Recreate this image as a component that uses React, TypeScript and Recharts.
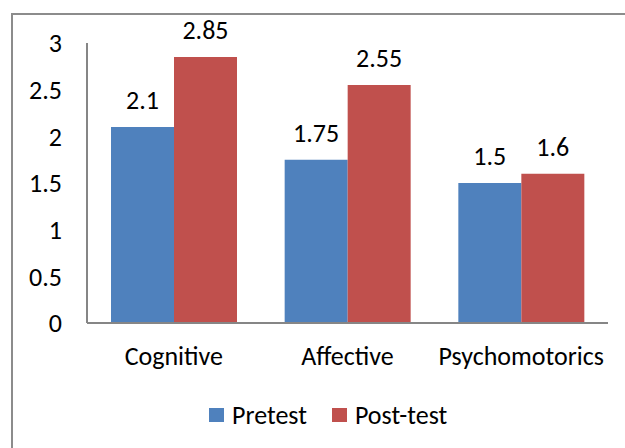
import { BarChart, Bar, XAxis, YAxis, Legend, LabelList } from "recharts";

const categories = ["Cognitive", "Affective", "Psychomotorics"];
const pretest = [2.1, 1.75, 1.5];
const posttest = [2.85, 2.55, 1.6];
const yTicks = [0, 0.5, 1, 1.5, 2, 2.5, 3];
const seriesNames = ["Pretest", "Post-test"];
const seriesColors = ["#4F81BD", "#C0504D"];

const data = categories.map((name, i) => ({
  name,
  Pretest: pretest[i],
  "Post-test": posttest[i],
}));

const font = "Carlito, Lato, sans-serif";

const LegendBox = () => (
  <div style={{ display: "flex", alignItems: "center", height: 30, paddingLeft: 209, fontSize: 26, fontFamily: font, color: "#000" }}>
    {seriesNames.map((n, i) => (
      <div key={n} style={{ display: "flex", alignItems: "center", marginRight: 25 }}>
        <span style={{ display: "inline-block", width: 15, height: 14, background: seriesColors[i], marginRight: 8 }} />
        <span>{n}</span>
      </div>
    ))}
  </div>
);

export default function App() {
  return (
    <div style={{ position: "absolute", left: 0, top: 0, width: 625, height: 448, overflow: "hidden", background: "#fff", fontFamily: font }}>
      <div style={{ position: "absolute", left: 11, top: 13, width: 640, height: 460, border: "2px solid #8c8c8c", boxSizing: "border-box" }} />
      <BarChart
        width={625}
        height={448}
        data={data}
        margin={{ top: 43, right: 17, bottom: 35, left: 0 }}
        barCategoryGap={24}
        barGap={0}
      >
        <XAxis
          dataKey="name"
          axisLine={{ stroke: "#868686", strokeWidth: 2 }}
          tickLine={false}
          tickMargin={18}
          tick={{ fill: "#000", fontSize: 26, fontFamily: font }}
          height={60}
        />
        <YAxis
          domain={[0, 3]}
          ticks={yTicks}
          width={87}
          axisLine={{ stroke: "#868686", strokeWidth: 2 }}
          tickLine={false}
          tickMargin={19}
          tick={{ fill: "#000", fontSize: 26, fontFamily: font }}
        />
        <Legend
          content={<LegendBox />}
          wrapperStyle={{ top: 400, left: 0, width: 625, height: 30 }}
        />
        <Bar dataKey="Pretest" fill={seriesColors[0]} isAnimationActive={false}>
          <LabelList dataKey="Pretest" position="top" offset={18} fill="#000" fontSize={26} fontFamily={font} />
        </Bar>
        <Bar dataKey="Post-test" fill={seriesColors[1]} isAnimationActive={false}>
          <LabelList dataKey="Post-test" position="top" offset={18} fill="#000" fontSize={26} fontFamily={font} />
        </Bar>
      </BarChart>
    </div>
  );
}
